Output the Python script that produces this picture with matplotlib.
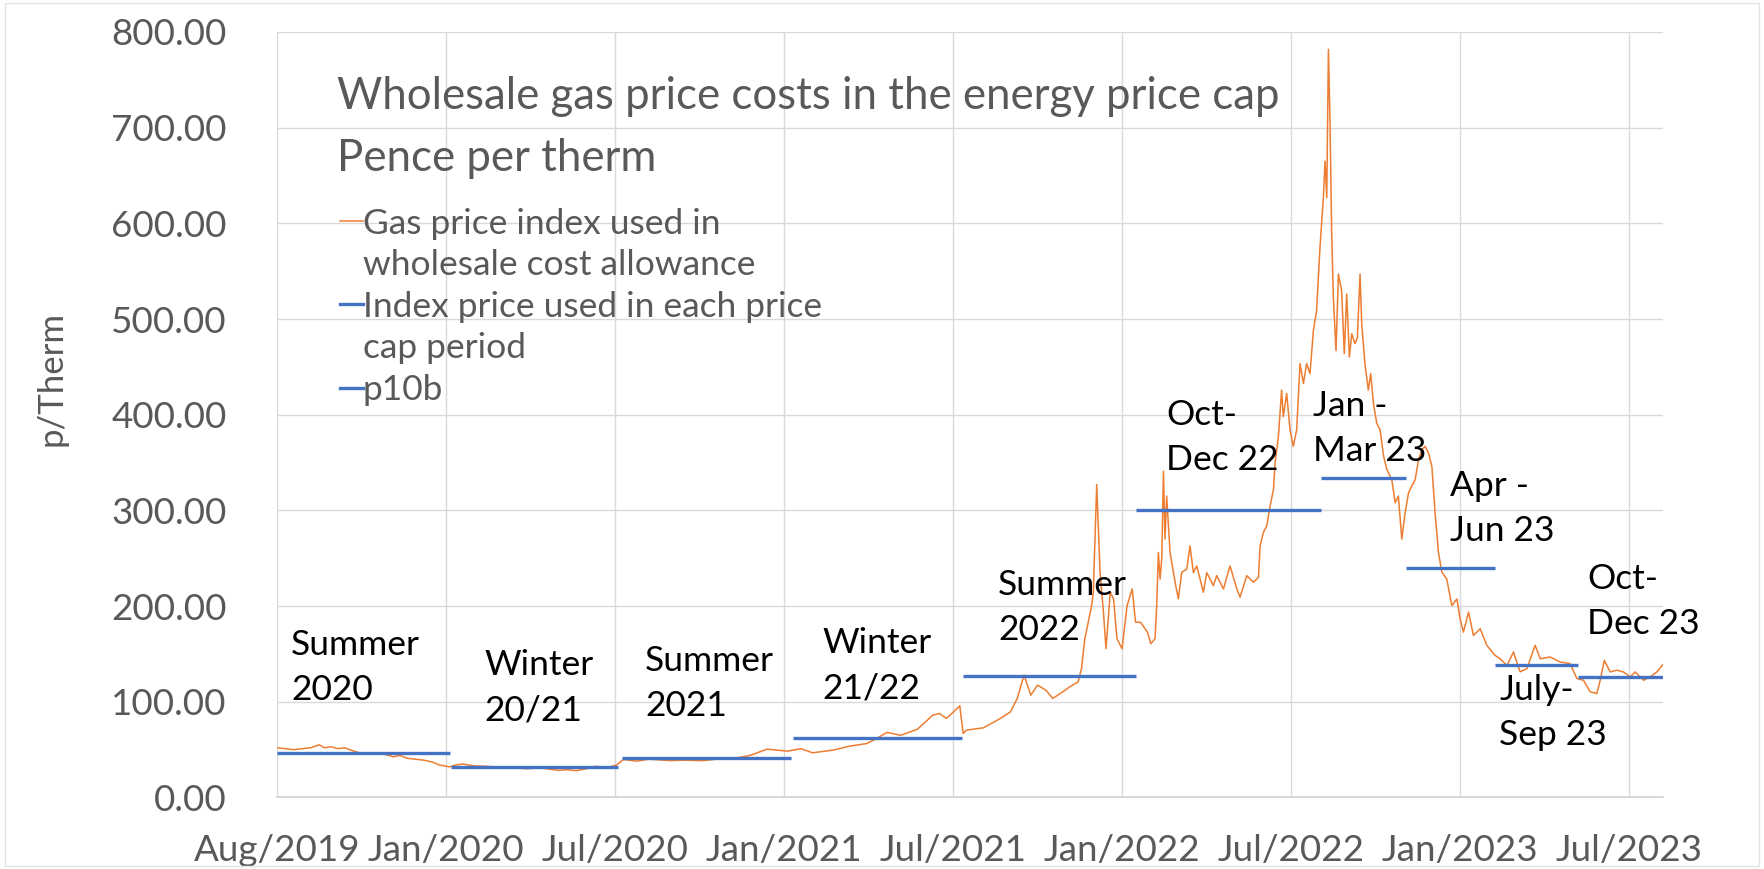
import matplotlib.pyplot as plt
from matplotlib.lines import Line2D
from matplotlib.patches import Rectangle

plt.rcParams['font.family'] = ['Lato', 'DejaVu Sans']

# x is measured in tick steps from the first tick (Aug/2019 = 0)
tick_labels = ['Aug/2019', 'Jan/2020', 'Jul/2020', 'Jan/2021', 'Jul/2021',
               'Jan/2022', 'Jul/2022', 'Jan/2023', 'Jul/2023']

# gas price index used in wholesale cost allowance (p/therm)
gas_x = [0.00, 0.05, 0.10, 0.15, 0.20, 0.25, 0.28, 0.32, 0.36, 0.40,
         0.43, 0.48, 0.55, 0.62, 0.69, 0.73, 0.77, 0.82, 0.87, 0.92,
         0.96, 1.02, 1.06, 1.10, 1.17, 1.24, 1.32, 1.40, 1.48, 1.56,
         1.66, 1.72, 1.77, 1.83, 1.89, 1.95, 2.01, 2.05, 2.13, 2.20,
         2.33, 2.40, 2.52, 2.60, 2.70, 2.80, 2.90, 2.96, 3.02, 3.10,
         3.17, 3.29, 3.39, 3.49, 3.53, 3.61, 3.69, 3.79, 3.88, 3.92,
         3.96, 4.00, 4.04, 4.06, 4.08, 4.18, 4.28, 4.34, 4.38, 4.42,
         4.46, 4.50, 4.55, 4.59, 4.65, 4.69, 4.74, 4.76, 4.78, 4.80,
         4.82, 4.83, 4.85, 4.87, 4.89, 4.905, 4.93, 4.95, 4.97, 5.00,
         5.03, 5.06, 5.08, 5.11, 5.15, 5.17, 5.195, 5.205, 5.215, 5.225,
         5.235, 5.245, 5.254, 5.264, 5.284, 5.314, 5.333, 5.353, 5.383, 5.402,
         5.422, 5.442, 5.481, 5.501, 5.540, 5.560, 5.600, 5.639, 5.679, 5.698,
         5.738, 5.777, 5.807, 5.817, 5.836, 5.856, 5.876, 5.896, 5.905, 5.925,
         5.944, 5.954, 5.974, 5.994, 6.013, 6.033, 6.053, 6.073, 6.092, 6.112,
         6.132, 6.151, 6.171, 6.191, 6.201, 6.211, 6.221, 6.230, 6.240, 6.250,
         6.266, 6.280, 6.299, 6.315, 6.329, 6.345, 6.359, 6.378, 6.392, 6.408,
         6.418, 6.437, 6.457, 6.471, 6.487, 6.507, 6.527, 6.547, 6.566, 6.596,
         6.616, 6.635, 6.655, 6.675, 6.695, 6.714, 6.734, 6.754, 6.774, 6.793,
         6.813, 6.833, 6.852, 6.872, 6.892, 6.921, 6.951, 6.981, 7.000, 7.020,
         7.050, 7.079, 7.119, 7.158, 7.207, 7.237, 7.277, 7.316, 7.355, 7.395,
         7.444, 7.474, 7.533, 7.592, 7.651, 7.691, 7.730, 7.770, 7.809, 7.829,
         7.853, 7.888, 7.927, 7.967, 8.006, 8.036, 8.085, 8.125, 8.164, 8.200]
gas_p = [52, 51, 50, 51, 52, 55, 52, 53, 51, 52,
         50, 47, 46, 46, 42.5, 44, 41, 40, 39, 37,
         34, 32, 34, 35, 33, 32.6, 31, 31, 30, 31,
         28.4, 29, 28, 30, 32.6, 31, 34, 39.7, 38, 40,
         38.5, 39, 38.5, 40, 40.8, 44, 50.5, 49.5, 48.4, 51,
         46.7, 49.5, 53.7, 56.4, 60, 68, 65, 71.4, 86, 87.8,
         82.6, 88.9, 95.8, 66.9, 70.4, 72.8, 82.6, 89.5, 103.5, 127.9,
         107, 117.4, 112, 103.5, 110.5, 115.6, 120.8, 134.7, 165.9, 183,
         200.6, 214.5, 327, 235, 193.6, 155.5, 214.5, 207.5, 165.9, 155.5,
         200.6, 217.9, 183.2, 183, 172.8, 160.7, 165.9, 200.6, 256, 228.3,
         250, 341, 270, 315, 256, 224.9, 207.5, 235.3, 238.7, 263,
         235, 242, 214.5, 235, 221.4, 231.8, 217.9, 242, 217.9, 209.3,
         231.8, 224.9, 230, 263, 277, 283.8, 304.6, 322, 349.5, 377,
         425.8, 398, 422.3, 384, 366.9, 384, 453.5, 432.7, 453.5, 443,
         488, 509, 574.8, 626.7, 664.9, 626.7, 782, 710, 592, 522.8,
         467, 547, 529.7, 463.9, 526, 460.4, 484.7, 474.3, 480, 547,
         495, 453.5, 425.8, 443, 412, 391, 384, 357, 343, 332,
         308, 315, 270, 298, 318.5, 325.4, 332, 353, 363.6, 367,
         360, 346, 297.7, 256, 235.5, 228.3, 200.6, 207.5, 186.7, 172.8,
         193.6, 169.3, 176.3, 159, 148.5, 145, 138, 152, 131.3, 134.7,
         159, 145, 146.8, 141.6, 139.9, 124.3, 122.5, 110.4, 108.7, 122.5,
         143.3, 131.2, 133, 131.2, 126, 131.2, 122.5, 126, 131.2, 138.8]

# index price used in each price cap period
cap_start = [0.00, 1.03, 2.04, 3.055, 4.06, 5.08, 6.18, 6.68, 7.207, 7.70]
cap_end = [1.025, 2.02, 3.04, 4.055, 5.08, 6.18, 6.68, 7.207, 7.70, 8.20]
cap_price = [46.5, 31.5, 41, 62.4, 127, 300, 334, 240, 138, 125.5]
p10b_start = cap_start[-1:]
p10b_end = cap_end[-1:]
p10b_price = cap_price[-1:]

period_names = ['Summer\n2020', 'Winter\n20/21', 'Summer\n2021', 'Winter\n21/22',
                'Summer\n2022', 'Oct-\nDec 22', 'Jan -\nMar 23', 'Apr -\nJun 23',
                'Oct-\nDec 23', 'July-\nSep 23']
# left edge / vertical centre of each period label, in data units
period_pos = [(0.083, 135.5), (1.225, 114.6), (2.178, 118.8), (3.225, 137.6),
              (4.266, 198.8), (5.26, 376.7), (6.13, 385.6), (6.941, 301.9),
              (7.751, 205.1), (7.231, 88.4)]

grey = '#595959'
orange = '#ED7D31'
blue = '#4472C4'

fig = plt.figure(figsize=(17.64, 8.69), dpi=100)
ax = fig.add_axes([0.157, 0.0823, 0.7857, 0.8809])

ax.plot(gas_x, gas_p, color=orange, lw=1.1, zorder=3)
ax.hlines(cap_price[:-1], cap_start[:-1], cap_end[:-1], color=blue, lw=2.4, zorder=4)
ax.hlines(p10b_price, p10b_start, p10b_end, color=blue, lw=2.4, zorder=4)

ax.set_xlim(0, 8.2)
ax.set_ylim(0, 800)
ax.set_xticks(range(len(tick_labels)))
ax.set_xticklabels(tick_labels)
ax.set_yticks(range(0, 801, 100))
ax.set_yticklabels(['%.2f' % v for v in range(0, 801, 100)])
ax.tick_params(length=0, labelsize=26.5, labelcolor=grey)
ax.tick_params(axis='x', pad=26)
ax.tick_params(axis='y', pad=36)
ax.grid(True, color='#d9d9d9', lw=1.0)
ax.set_axisbelow(True)
for s in ['top', 'right', 'left']:
    ax.spines[s].set_visible(False)
ax.spines['bottom'].set_color('#d0d0d0')
ax.spines['bottom'].set_linewidth(1.2)

ax.set_ylabel('p/Therm', fontsize=25, color=grey)
ax.yaxis.set_label_coords(-0.151, 0.547)

ax.text(0.0433, 0.8755, 'Wholesale gas price costs in the energy price cap\nPence per therm',
        transform=ax.transAxes, fontsize=31.5, color=grey, va='center', ha='left',
        linespacing=1.64)

for name, (px, py) in zip(period_names, period_pos):
    ax.text(px, py, name, fontsize=25.5, color='black', va='center', ha='left',
            linespacing=1.5, zorder=5)

handles = [Line2D([], [], color=orange, lw=1.1), Line2D([], [], color='none'),
           Line2D([], [], color=blue, lw=2.4), Line2D([], [], color='none'),
           Line2D([], [], color=blue, lw=2.4)]
labels = ['Gas price index used in', 'wholesale cost allowance',
          'Index price used in each price', 'cap period', 'p10b']
leg = ax.legend(handles, labels, loc='upper left', bbox_to_anchor=(0.0455, 0.7705),
                frameon=False, fontsize=25.5, handlelength=0.64, handletextpad=0.0,
                labelspacing=0.27, borderpad=0, borderaxespad=0)
for t in leg.get_texts():
    t.set_color(grey)

fig.patches.append(Rectangle((0.003, 0.004), 0.994, 0.992, transform=fig.transFigure,
                             fill=False, edgecolor='#e3e3e3', lw=1.0))

fig.savefig('out.png', dpi=100)
